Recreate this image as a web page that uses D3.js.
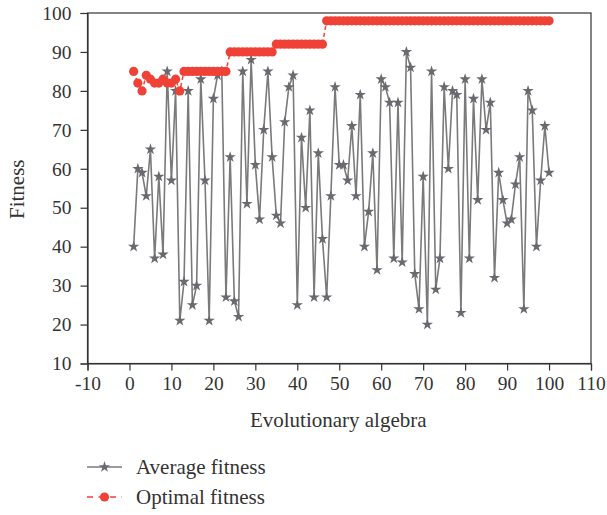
<!DOCTYPE html>
<html><head><meta charset="utf-8">
<script src="https://cdn.jsdelivr.net/npm/d3@7"></script>
<style>body{margin:0;background:#fff}svg{display:block}</style>
</head><body><svg id="c" width="607" height="515"></svg>
<script>
const generations = [1,2,3,4,5,6,7,8,9,10,11,12,13,14,15,16,17,18,19,20,21,22,23,24,25,26,27,28,29,30,31,32,33,34,35,36,37,38,39,40,41,42,43,44,45,46,47,48,49,50,51,52,53,54,55,56,57,58,59,60,61,62,63,64,65,66,67,68,69,70,71,72,73,74,75,76,77,78,79,80,81,82,83,84,85,86,87,88,89,90,91,92,93,94,95,96,97,98,99,100];
const averageFitness = [40,60,59,53,65,37,58,38,85,57,80,21,31,80,25,30,83,57,21,78,84,85,27,63,26,22,85,51,88,61,47,70,85,63,48,46,72,81,84,25,68,50,75,27,64,42,27,53,81,61,61,57,71,53,79,40,49,64,34,83,81,77,37,77,36,90,86,33,24,58,20,85,29,37,81,60,80,79,23,83,37,78,52,83,70,77,32,59,52,46,47,56,63,24,80,75,40,57,71,59];
const optimalFitness = [85,82,80,84,83,82,82,83,82,82,83,80,85,85,85,85,85,85,85,85,85,85,85,90,90,90,90,90,90,90,90,90,90,90,92,92,92,92,92,92,92,92,92,92,92,92,98,98,98,98,98,98,98,98,98,98,98,98,98,98,98,98,98,98,98,98,98,98,98,98,98,98,98,98,98,98,98,98,98,98,98,98,98,98,98,98,98,98,98,98,98,98,98,98,98,98,98,98,98,98];
const xTicks = [-10,0,10,20,30,40,50,60,70,80,90,100,110];
const yTicks = [10,20,30,40,50,60,70,80,90,100];
const seriesNames = ["Average fitness","Optimal fitness"];

const svg = d3.select("#c");
const font = "'Liberation Serif','DejaVu Serif',serif";
const L=87.5, R=591, T=13, B=363.5;
const x = d3.scaleLinear().domain([-10,110]).range([L,R]);
const y = d3.scaleLinear().domain([10,100]).range([B,T]);
const grayLine="#7a7a7a", grayFill="#696970", red="#ef4136";

svg.append("rect").attr("x",L).attr("y",T).attr("width",R-L).attr("height",B-T)
  .attr("fill","none").attr("stroke","#333").attr("stroke-width",1.2);

const xAxis = svg.append("g").attr("transform",`translate(0,${B})`)
  .call(d3.axisBottom(x).tickValues(xTicks).tickSize(7).tickPadding(3).tickFormat(d=>String(d)));
const yAxis = svg.append("g").attr("transform",`translate(${L},0)`)
  .call(d3.axisLeft(y).tickValues(yTicks).tickSize(7).tickPadding(9).tickFormat(d=>String(d)));
[xAxis,yAxis].forEach(a=>{
  a.select(".domain").attr("stroke","#333").attr("stroke-width",1.2);
  a.selectAll(".tick line").attr("stroke","#333").attr("stroke-width",1.2);
  a.selectAll("text").attr("font-family",font).attr("font-size",19.5).attr("fill","#333");
});
xAxis.selectAll("text").attr("dy","0.85em");

svg.append("text").attr("x",(L+R)/2-1).attr("y",427).attr("text-anchor","middle")
  .attr("font-family",font).attr("font-size",21).attr("fill","#333").text("Evolutionary algebra");
svg.append("text").attr("transform",`translate(24,${(T+B)/2+1}) rotate(-90)`).attr("text-anchor","middle")
  .attr("font-family",font).attr("font-size",21).attr("fill","#333").text("Fitness");

const avgData = generations.map((g,i)=>({g,v:averageFitness[i]}));
const optData = generations.map((g,i)=>({g,v:optimalFitness[i]}));
const line = d3.line().x(d=>x(d.g)).y(d=>y(d.v));
const star = d3.symbol().type(d3.symbolStar).size(40);

svg.append("path").datum(avgData).attr("d",line).attr("fill","none")
  .attr("stroke",grayLine).attr("stroke-width",1.6);
svg.append("g").selectAll("path").data(avgData).join("path")
  .attr("transform",d=>`translate(${x(d.g)},${y(d.v)})`).attr("d",star).attr("fill",grayFill);

svg.append("path").datum(optData).attr("d",line).attr("fill","none")
  .attr("stroke",red).attr("stroke-width",1.5).attr("stroke-dasharray","4,3");
svg.append("g").selectAll("circle").data(optData).join("circle")
  .attr("cx",d=>x(d.g)).attr("cy",d=>y(d.v)).attr("r",4.6).attr("fill",red);

const leg = svg.append("g");
const ly=[467,497];
leg.append("line").attr("x1",87).attr("x2",122).attr("y1",ly[0]).attr("y2",ly[0]).attr("stroke",grayLine).attr("stroke-width",1.6);
leg.append("path").attr("transform",`translate(104.5,${ly[0]})`).attr("d",star).attr("fill",grayFill);
leg.append("line").attr("x1",87).attr("x2",122).attr("y1",ly[1]).attr("y2",ly[1]).attr("stroke",red).attr("stroke-width",1.5).attr("stroke-dasharray","6,5.5");
leg.append("circle").attr("cx",104.5).attr("cy",ly[1]).attr("r",4.6).attr("fill",red);
seriesNames.forEach((n,i)=>{
  leg.append("text").attr("x",136).attr("y",ly[i]).attr("dy","0.33em").attr("font-family",font)
    .attr("font-size",21).attr("fill","#333").text(n);
});
</script></body></html>
